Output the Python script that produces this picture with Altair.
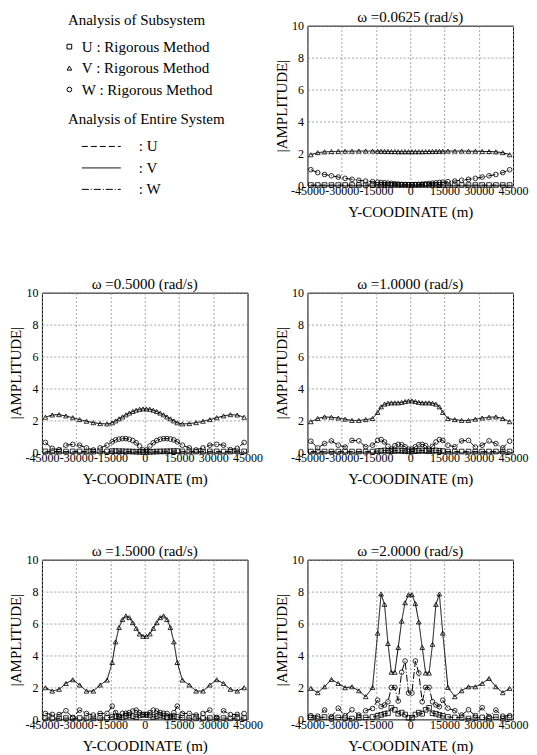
import altair as alt
import pandas as pd

FONT = "Liberation Serif"

# Y-coordinates (m) of the computed points
Y_COORD = [-43500, -40500, -37500, -34500, -31500, -28500, -25500, -22500, -19500, -16500,
           -14250, -12750, -11250, -9750, -8250, -6750, -5250, -3750, -2250, -750,
           750, 2250, 3750, 5250, 6750, 8250, 9750, 11250, 12750, 14250,
           16500, 19500, 22500, 25500, 28500, 31500, 34500, 37500, 40500, 43500]

X_TICKS = [-45000, -30000, -15000, 0, 15000, 30000, 45000]
Y_TICKS = [0, 2, 4, 6, 8, 10]

TITLES = ["ω =0.0625 (rad/s)", "ω =0.5000 (rad/s)", "ω =1.0000 (rad/s)",
          "ω =1.5000 (rad/s)", "ω =2.0000 (rad/s)"]

COMPS = ["U", "V", "W"]
SUB_LABELS = ["U : Rigorous Method", "V : Rigorous Method", "W : Rigorous Method"]
ENT_LABELS = [": U", ": V", ": W"]

# omega = 0.0625
U_0 = [0.02, 0.02, 0.02, 0.02, 0.02, 0.02, 0.02, 0.02, 0.02, 0.02,
       0.03, 0.03, 0.03, 0.03, 0.03, 0.03, 0.03, 0.03, 0.03, 0.03,
       0.03, 0.03, 0.03, 0.03, 0.03, 0.03, 0.03, 0.03, 0.03, 0.03,
       0.02, 0.02, 0.02, 0.02, 0.02, 0.02, 0.02, 0.02, 0.02, 0.02]
V_0 = [1.92, 2.05, 2.1, 2.12, 2.13, 2.14, 2.14, 2.15, 2.15, 2.15,
       2.14, 2.14, 2.13, 2.13, 2.12, 2.12, 2.11, 2.11, 2.11, 2.11,
       2.11, 2.11, 2.11, 2.11, 2.12, 2.12, 2.13, 2.13, 2.14, 2.14,
       2.15, 2.15, 2.15, 2.14, 2.14, 2.13, 2.12, 2.1, 2.05, 1.92]
W_0 = [0.98, 0.8, 0.68, 0.6, 0.52, 0.44, 0.38, 0.32, 0.27, 0.23,
       0.2, 0.18, 0.16, 0.14, 0.12, 0.1, 0.08, 0.06, 0.05, 0.04,
       0.04, 0.05, 0.06, 0.08, 0.1, 0.12, 0.14, 0.16, 0.18, 0.2,
       0.23, 0.27, 0.32, 0.38, 0.44, 0.52, 0.6, 0.68, 0.8, 0.98]

# omega = 0.5
U_1 = [0.06, 0.06, 0.05, 0.05, 0.06, 0.06, 0.05, 0.05, 0.06, 0.06,
       0.08, 0.08, 0.07, 0.07, 0.06, 0.06, 0.05, 0.04, 0.03, 0.02,
       0.02, 0.03, 0.04, 0.05, 0.06, 0.06, 0.07, 0.07, 0.08, 0.08,
       0.06, 0.06, 0.05, 0.05, 0.06, 0.06, 0.05, 0.05, 0.06, 0.06]
V_1 = [2.2, 2.34, 2.36, 2.28, 2.17, 2.05, 1.95, 1.86, 1.8, 1.78,
       1.85, 1.97, 2.1, 2.22, 2.35, 2.46, 2.56, 2.64, 2.7, 2.72,
       2.72, 2.7, 2.64, 2.56, 2.46, 2.35, 2.22, 2.1, 1.97, 1.85,
       1.78, 1.8, 1.86, 1.95, 2.05, 2.17, 2.28, 2.36, 2.34, 2.2]
W_1 = [0.62, 0.25, 0.17, 0.45, 0.5, 0.45, 0.28, 0.15, 0.28, 0.45,
       0.66, 0.78, 0.83, 0.86, 0.86, 0.82, 0.74, 0.6, 0.4, 0.15,
       0.15, 0.4, 0.6, 0.74, 0.82, 0.86, 0.86, 0.83, 0.78, 0.66,
       0.45, 0.28, 0.15, 0.28, 0.45, 0.5, 0.45, 0.17, 0.25, 0.62]

# omega = 1.0
U_2 = [0.05, 0.05, 0.05, 0.05, 0.05, 0.05, 0.05, 0.05, 0.05, 0.05,
       0.08, 0.1, 0.12, 0.1, 0.08, 0.1, 0.12, 0.1, 0.08, 0.06,
       0.06, 0.08, 0.1, 0.12, 0.1, 0.08, 0.1, 0.12, 0.1, 0.08,
       0.05, 0.05, 0.05, 0.05, 0.05, 0.05, 0.05, 0.05, 0.05, 0.05]
V_2 = [1.92, 2.12, 2.22, 2.2, 2.15, 2.08, 2.0, 2.0, 2.05, 2.12,
       2.5, 2.85, 3.02, 3.08, 3.1, 3.1, 3.1, 3.13, 3.18, 3.22,
       3.22, 3.18, 3.13, 3.1, 3.1, 3.1, 3.08, 3.02, 2.85, 2.5,
       2.12, 2.05, 2.0, 2.0, 2.08, 2.15, 2.2, 2.22, 2.12, 1.92]
W_2 = [0.7, 0.28, 0.55, 0.72, 0.45, 0.33, 0.75, 0.72, 0.35, 0.45,
       0.75, 0.8, 0.65, 0.38, 0.2, 0.42, 0.5, 0.48, 0.35, 0.2,
       0.2, 0.35, 0.48, 0.5, 0.42, 0.2, 0.38, 0.65, 0.8, 0.75,
       0.45, 0.35, 0.72, 0.75, 0.33, 0.45, 0.72, 0.55, 0.28, 0.7]

# omega = 1.5
U_3 = [0.08, 0.08, 0.06, 0.08, 0.06, 0.08, 0.08, 0.06, 0.08, 0.1,
       0.15, 0.2, 0.15, 0.12, 0.2, 0.25, 0.2, 0.15, 0.25, 0.3,
       0.3, 0.25, 0.15, 0.2, 0.25, 0.2, 0.12, 0.15, 0.2, 0.15,
       0.1, 0.08, 0.06, 0.08, 0.08, 0.06, 0.08, 0.06, 0.08, 0.08]
V_3 = [1.98, 1.77, 1.88, 2.25, 2.48, 2.15, 1.77, 1.77, 2.15, 2.46,
       3.56, 4.85, 5.75, 6.25, 6.48, 6.37, 6.05, 5.7, 5.35, 5.2,
       5.2, 5.35, 5.7, 6.05, 6.37, 6.48, 6.25, 5.75, 4.85, 3.56,
       2.46, 2.15, 1.77, 1.77, 2.15, 2.48, 2.25, 1.88, 1.77, 1.98]
W_3 = [0.37, 0.31, 0.3, 0.54, 0.12, 0.58, 0.37, 0.27, 0.37, 0.37,
       0.83, 0.42, 0.2, 0.37, 0.38, 0.42, 0.52, 0.58, 0.42, 0.27,
       0.27, 0.42, 0.58, 0.52, 0.42, 0.38, 0.37, 0.2, 0.42, 0.83,
       0.37, 0.37, 0.27, 0.37, 0.58, 0.12, 0.54, 0.3, 0.31, 0.37]

# omega = 2.0
U_4 = [0.12, 0.05, 0.15, 0.05, 0.12, 0.08, 0.05, 0.1, 0.12, 0.15,
       0.22, 0.28, 0.35, 0.38, 0.72, 0.6, 0.35, 0.42, 0.3, 0.1,
       0.1, 0.3, 0.42, 0.35, 0.6, 0.72, 0.38, 0.35, 0.28, 0.22,
       0.15, 0.12, 0.1, 0.05, 0.08, 0.12, 0.05, 0.15, 0.05, 0.12]
V_4 = [1.94, 1.67, 2.04, 2.5, 2.25, 1.98, 2.04, 1.79, 1.42, 2.0,
       5.4, 7.85, 7.2, 4.75, 2.95, 2.95, 4.5, 6.15, 7.3, 7.8,
       7.8, 7.25, 6.1, 4.5, 2.9, 2.9, 4.7, 7.2, 7.85, 5.4,
       2.0, 1.42, 1.79, 2.04, 2.04, 2.25, 2.56, 2.04, 1.67, 1.94]
W_4 = [0.23, 0.2, 0.58, 0.17, 0.7, 0.23, 0.6, 0.27, 0.54, 0.68,
       1.2, 0.8, 0.9, 1.1, 2.0, 2.0, 1.15, 2.95, 3.65, 1.65,
       1.65, 3.65, 2.9, 1.1, 2.0, 2.0, 1.1, 0.9, 0.8, 1.2,
       0.7, 0.54, 0.27, 0.6, 0.23, 0.73, 0.17, 0.58, 0.2, 0.23]

SERIES = [(U_0, V_0, W_0), (U_1, V_1, W_1), (U_2, V_2, W_2),
          (U_3, V_3, W_3), (U_4, V_4, W_4)]

PW, PH = 206, 160

shape_legend = alt.Legend(
    title="Analysis of Subsystem", orient="none", legendX=26, legendY=-13,
    titleFont=FONT, titleFontSize=15, titleFontWeight="normal", titleColor="black",
    labelFont=FONT, labelFontSize=15, labelColor="black",
    symbolSize=22, symbolStrokeColor="black", symbolFillColor="white",
    symbolStrokeWidth=1, symbolOpacity=1, symbolOffset=-6, labelOffset=5,
    rowPadding=5.5, titlePadding=11.5,
)
dash_legend = alt.Legend(
    title="Analysis of Entire System", orient="none", legendX=26, legendY=87,
    titleFont=FONT, titleFontSize=15, titleFontWeight="normal", titleColor="black",
    labelFont=FONT, labelFontSize=15, labelColor="black",
    symbolType="stroke", symbolSize=1521, symbolStrokeColor="black",
    symbolStrokeWidth=1, symbolOffset=13.5, labelOffset=17.5,
    rowPadding=5.5, titlePadding=11.5, clipHeight=15,
)


def panel(title, u, v, w):
    rows = []
    for ci, series in enumerate([u, v, w]):
        for yc, a in zip(Y_COORD, series):
            rows.append({"ycoord": yc, "amp": a, "comp": COMPS[ci],
                         "sub": SUB_LABELS[ci], "ent": ENT_LABELS[ci]})
    df = pd.DataFrame(rows)
    x = alt.X("ycoord:Q",
              scale=alt.Scale(domain=[-45000, 45000], nice=False, zero=False),
              axis=alt.Axis(values=X_TICKS, labelExpr="'' + datum.value",
                            title="Y-COODINATE (m)", labelPadding=0,
                            titlePadding=8, labelOverlap=False, labelFlush=False))
    y = alt.Y("amp:Q", scale=alt.Scale(domain=[0, 10], nice=False),
              axis=alt.Axis(values=Y_TICKS, title="|AMPLITUDE|",
                            labelPadding=4, titlePadding=2, labelFlush=False,
                            labelOverlap=False))
    base = alt.Chart(df)
    lines = base.mark_line(color="black", strokeWidth=1).encode(
        x=x, y=y,
        strokeDash=alt.StrokeDash(
            "ent:N",
            scale=alt.Scale(domain=ENT_LABELS, range=[[6, 3], [1, 0], [7, 2, 1, 2]]),
            legend=dash_legend),
    )
    pts = base.mark_point(filled=False, color="black", opacity=1,
                          strokeWidth=0.8, size=22).encode(
        x=x, y=y,
        shape=alt.Shape(
            "sub:N",
            scale=alt.Scale(domain=SUB_LABELS,
                            range=["square", "triangle-up", "circle"]),
            legend=shape_legend),
    )
    return alt.layer(lines, pts).properties(
        width=PW, height=PH,
        title=alt.TitleParams(text=title, font=FONT, fontSize=15,
                              fontWeight="normal", color="black", offset=-5),
    )


placeholder = alt.Chart(pd.DataFrame({"v": [0]})).mark_point(opacity=0).encode(
    x=alt.X("v:Q", axis=None), y=alt.Y("v:Q", axis=None)
).properties(width=PW, height=PH, view=alt.ViewBackground(stroke="transparent"))

panels = [panel(t, *s) for t, s in zip(TITLES, SERIES)]

chart = alt.concat(placeholder, *panels, columns=2,
                   spacing={"row": 55.5, "column": 10}).resolve_scale(
    x="independent", y="independent", shape="shared", strokeDash="shared"
).properties(padding=0).configure_view(
    stroke="black", strokeWidth=1
).configure_axis(
    labelFont=FONT, labelFontSize=12, labelColor="black",
    titleFont=FONT, titleFontSize=15, titleFontWeight="normal", titleColor="black",
    grid=True, gridColor="#8c8c8c", gridDash=[2, 2], gridWidth=0.8,
    domain=False, ticks=False, tickSize=0,
)

chart.save("out.html", embed_options={"renderer": "svg", "actions": False})
